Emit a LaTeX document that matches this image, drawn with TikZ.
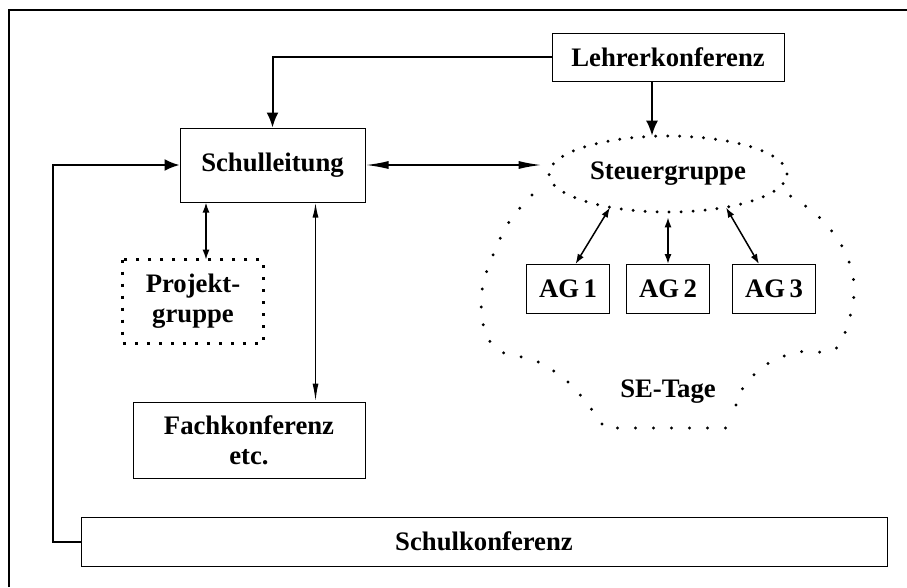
\documentclass[tikz,border=0pt]{standalone}
\usepackage{fontspec}
\setmainfont{Liberation Serif}
\usetikzlibrary{positioning,arrows.meta,shapes.geometric}

\begin{document}
\begin{tikzpicture}[node distance=2cm, on grid,
    font=\fontsize{15.2}{17}\selectfont\bfseries,
    box/.style={draw, line width=0.02cm, minimum width=#1, inner sep=0pt},
    box/.default=3.7cm,
    arr/.style={line width=0.04cm, -{Latex[length=0.3cm,width=0.24cm]}},
    longarr/.style={line width=0.035cm, {Latex[length=0.46cm,width=0.16cm]}-{Latex[length=0.46cm,width=0.16cm]}},
    thinarr/.style={line width=0.03cm, {Latex[length=0.3cm,width=0.12cm]}-{Latex[length=0.36cm,width=0.12cm]}},
    smallarr/.style={line width=0.03cm, {Latex[length=0.2cm,width=0.14cm]}-{Latex[length=0.2cm,width=0.14cm]}},
    dotline/.style={line width=0.065cm, line cap=round, dash pattern=on 0pt off #1},
    dotline/.default=0.24cm]

    \useasboundingbox (0,0) rectangle (18.14,-11.74);
    \draw[line width=0.05cm] (0.18,-11.74) -- (0.18,-0.20) -- (18.14,-0.20);

    \node[box, minimum height=1.48cm] (sl) at (5.45,-3.30) {Schulleitung};
    \node[box=4.64cm, minimum height=0.96cm] (lk) at (13.36,-1.14) {Lehrerkonferenz};
    \node[ellipse, minimum width=4.76cm, minimum height=1.52cm, inner sep=0pt] (sg) [below=2.34cm of lk] {Steuergruppe};
    \draw[dotline] (sg.center) ellipse (2.38cm and 0.76cm);

    \node[box=1.66cm, minimum height=0.98cm] (ag2) [below=2.30cm of sg] {AG\,2};
    \node[box=1.66cm, minimum height=0.98cm] (ag1) [left=2.0cm of ag2] {AG\,1};
    \node[box=1.66cm, minimum height=0.98cm] (ag3) [right=2.12cm of ag2] {AG\,3};
    \node (se) [below=4.36cm of sg] {SE-Tage};

    \node[minimum width=2.8cm, minimum height=1.66cm, align=center, inner sep=0pt] (pg)
        [below left=2.73cm and 1.59cm of sl] {Projekt-\\gruppe};
    \draw[line width=0.06cm, dash pattern=on 0.06cm off 0.18cm] (pg.north west) rectangle (pg.south east);
    \node[box=4.64cm, minimum height=1.52cm, align=center] (fk)
        [below left=5.50cm and 0.47cm of sl] {Fachkonferenz\\etc.};
    \node[box=16.12cm, minimum height=0.98cm] (sk) at (9.68,-10.83) {Schulkonferenz};

    % SE-Tage
    \draw[dotline=0.36cm] plot[smooth, tension=0.6] coordinates {
        (10.64,-3.90) (10.18,-4.44) (9.86,-5.10) (9.64,-5.80) (9.68,-6.56)
        (10.0,-7.02) (10.72,-7.22) (11.36,-7.64) (11.92,-8.30) (12.08,-8.56)}
        -- (14.56,-8.56);
    \draw[dotline=0.36cm] plot[smooth, tension=0.6] coordinates {
        (14.72,-8.10) (14.80,-7.84) (15.28,-7.32) (15.96,-7.04) (16.68,-7.00)
        (16.98,-6.40) (17.08,-5.70) (16.90,-5.04) (16.48,-4.44) (15.94,-4.00) (15.56,-3.80)};

    \draw[arr] (lk.west) -| (sl.north);
    \draw[arr] ([xshift=-0.32cm]lk.south) -- ([xshift=-0.32cm]lk.south |- sg.north);
    \draw[longarr, shorten >=0.14cm] (sl.east) -- (sl.east -| sg.west);
    \draw[smallarr] ([xshift=0.26cm]pg.north) -- ([xshift=0.26cm]pg.north |- sl.south);
    \draw[thinarr] ([xshift=0.86cm]sl.south) -- ([xshift=0.86cm]sl.south |- fk.north);
    \draw[arr] (sk.west) -- ++(-0.56,0) |- (sl.west);

    \draw[smallarr] (sg.210) -- ([xshift=0.15cm]ag1.north);
    \draw[smallarr] ([yshift=-0.1cm]ag2.north |- sg.south) -- (ag2.north);
    \draw[smallarr] (sg.330) -- ([xshift=-0.3cm]ag3.north);

\end{tikzpicture}
\end{document}
